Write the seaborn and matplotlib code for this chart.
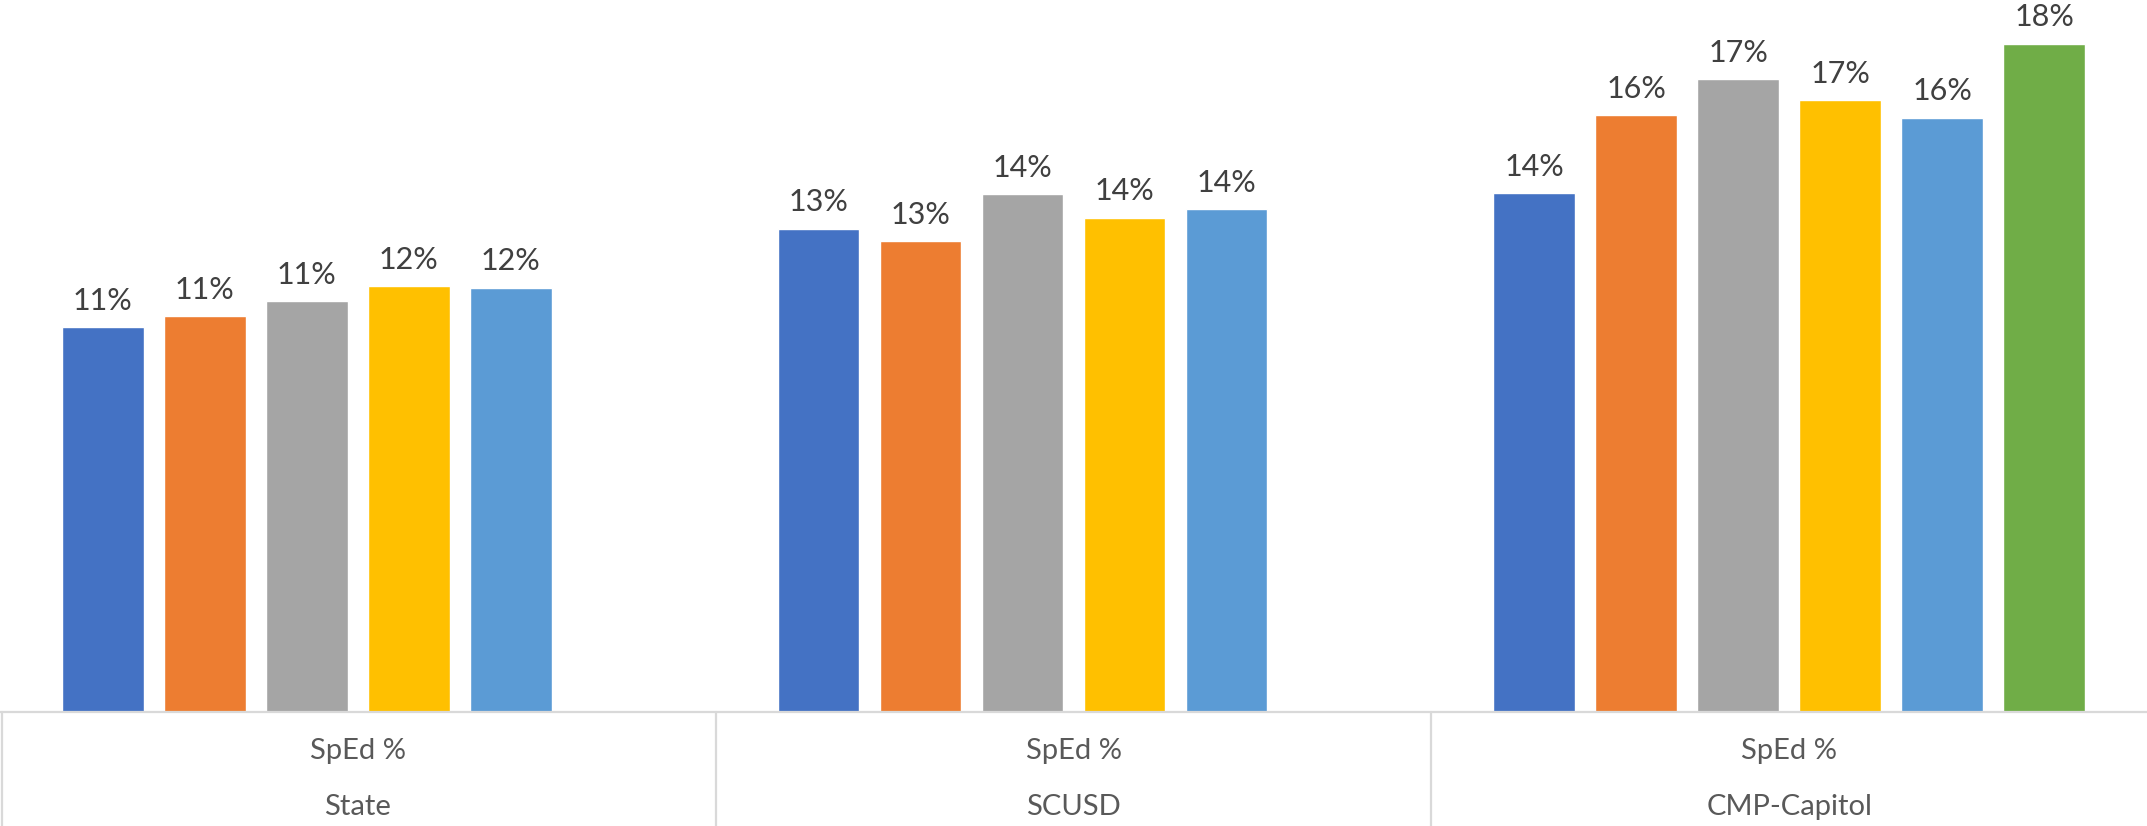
import pandas as pd
import seaborn as sns
import matplotlib.pyplot as plt

groups = ["State", "SCUSD", "CMP-Capitol"]
years = ["2013-14", "2014-15", "2015-16", "2016-17", "2017-18", "2018-19"]
state_vals = [10.56, 10.86, 11.28, 11.69, 11.65]
scusd_vals = [13.27, 12.93, 14.21, 13.57, 13.80]
cmp_vals = [14.25, 16.39, 17.37, 16.80, 16.32, 18.35]
measure = "SpEd %"

colors = ["#4472C4", "#ED7D31", "#A5A5A5", "#FFC000", "#5B9BD5", "#70AD47"]

rows = []
for g, vals in zip(groups, [state_vals, scusd_vals, cmp_vals]):
    for y, v in zip(years, vals):
        rows.append({"group": g, "year": y, "value": v})
df = pd.DataFrame(rows)

sns.set_style("white")
plt.rcParams['font.family'] = ['Lato', 'DejaVu Sans']

fig = plt.figure(figsize=(21.47, 8.26), dpi=100)
ax = fig.add_axes([0, 114 / 826, 1, 712 / 826])

sns.barplot(data=df, x="group", y="value", hue="year", order=groups, hue_order=years,
            palette=colors, width=0.855, gap=0.2, saturation=1, legend=False, ax=ax)

for c in ax.containers:
    ax.bar_label(c, labels=["{:.0f}%".format(b.get_height()) for b in c],
                 padding=9, fontsize=22, color="#404040")

ax.set_xlim(-0.5, 2.5)
ax.set_ylim(0, 19.55)
ax.set_xlabel("")
ax.set_ylabel("")
ax.set_xticks([])
ax.set_yticks([])
sns.despine(ax=ax, left=True, right=True, top=True, bottom=True)

# table-like category axis below the bars
trans = ax.get_xaxis_transform()
ax.plot([-0.5, 2.5], [0, 0], color="#D9D9D9", lw=1.6, transform=trans, clip_on=False)
for xb in [-0.497, 0.5, 1.5]:
    ax.plot([xb, xb], [0, -0.16], color="#D9D9D9", lw=1.6, transform=trans, clip_on=False)
for i, g in enumerate(groups):
    ax.text(i, -0.055, measure, transform=trans, ha="center", va="center",
            fontsize=21, color="#595959")
    ax.text(i, -0.133, g, transform=trans, ha="center", va="center",
            fontsize=21, color="#595959")

fig.savefig("out.png", dpi=100)
